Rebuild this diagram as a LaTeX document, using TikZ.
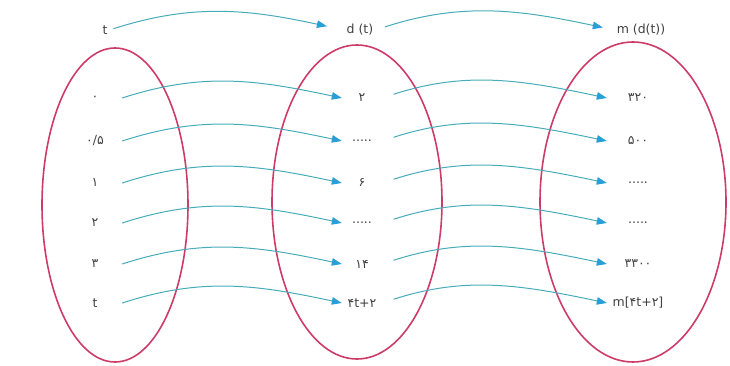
\documentclass[tikz,border=0pt]{standalone}
\usepackage{fontspec}
\setmainfont{DejaVu Sans}
\usetikzlibrary{arrows.meta}
\definecolor{ringc}{RGB}{205,60,105}
\definecolor{linec}{RGB}{70,172,185}
\definecolor{tipc}{RGB}{40,160,215}
\definecolor{txtc}{RGB}{65,65,65}
\tikzset{
  lbl/.style={text=txtc,font=\fontsize{12.5}{14}\selectfont,inner sep=2pt},
  lcol/.style={lbl,minimum width=54pt},
  mcol/.style={lbl,minimum width=40pt},
  rcol/.style={lbl,minimum width=62pt},
  ring/.style={draw=ringc,line width=1.6pt},
  maparrow/.style={draw=linec,line width=1pt,-{Triangle[length=10pt,width=7.5pt,color=tipc]},out=18,in=168}
}
\begin{document}
\begin{tikzpicture}[x=1pt,y=1pt]
\useasboundingbox (0,0) rectangle (730,366);
% ellipses
\draw[ring] (115,161) ellipse [x radius=73,y radius=157];
\draw[ring] (357,164) ellipse [x radius=85,y radius=157];
\draw[ring] (633,164) ellipse [x radius=93,y radius=160];
% top row
\node[lbl] (t0) at (105,336) {t};
\node[lbl] (d0) at (360,336) {d (t)};
\node[lbl] (m0) at (641,336) {m (d(t))};
% left column
\node[lcol] (l1) at (95,268) {۰};
\node[lcol] (l2) at (95,225) {۰/۵};
\node[lcol] (l3) at (95,183) {۱};
\node[lcol] (l4) at (95,143) {۲};
\node[lcol] (l5) at (95,102) {۳};
\node[lcol] (l6) at (95,63) {t};
% middle column
\node[mcol] (c1) at (362,268) {۲};
\node[mcol] (c2) at (362,225) {.....};
\node[mcol] (c3) at (362,183) {۶};
\node[mcol] (c4) at (362,143) {.....};
\node[mcol] (c5) at (362,102) {۱۴};
\node[mcol] (c6) at (362,63) {۴t+۲};
% right column
\node[rcol] (r1) at (638,268) {۳۲۰};
\node[rcol] (r2) at (638,225) {۵۰۰};
\node[rcol] (r3) at (638,183) {.....};
\node[rcol] (r4) at (638,143) {.....};
\node[rcol] (r5) at (638,102) {۳۳۰۰};
\node[rcol] (r6) at (638,63) {m[۴t+۲]};
% arrows
\draw[maparrow,shorten <=4pt,shorten >=18pt] (t0.east) to (d0.west);
\draw[maparrow,shorten <=10pt,shorten >=12pt] (d0.east) to (m0.west);
\foreach \i in {1,...,6}{
  \draw[maparrow] (l\i.east) to (c\i.west);
  \draw[maparrow,shorten <=12pt] (c\i.east) to (r\i.west);
}
\end{tikzpicture}
\end{document}
